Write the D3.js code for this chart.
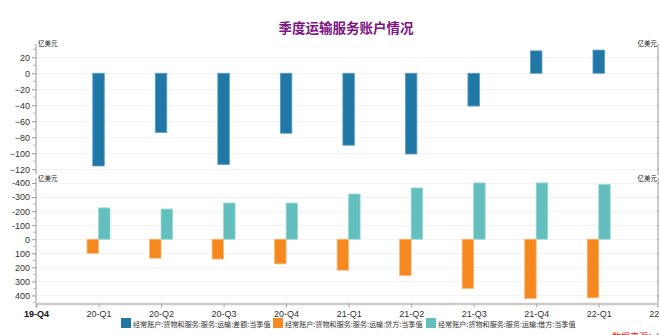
<!DOCTYPE html>
<html><head><meta charset="utf-8">
<script src="https://cdn.jsdelivr.net/npm/d3@7"></script>
<style>
html,body{margin:0;padding:0;background:#fff;overflow:hidden;}
svg{display:block;font-family:"Liberation Sans","Noto Sans CJK SC",Arial,sans-serif;}
</style></head><body>
<svg id="c" width="659" height="335"></svg>
<script>
const quarters = ["20-Q1","20-Q2","20-Q3","20-Q4","21-Q1","21-Q2","21-Q3","21-Q4","22-Q1"];
const xTickLabels = ["19-Q4","20-Q1","20-Q2","20-Q3","20-Q4","21-Q1","21-Q2","21-Q3","21-Q4","22-Q1","22-Q2"];
const balance = [-116, -74, -114, -75, -90, -101, -41, 28, 29];
const credit  = [100, 135, 141, 175, 220, 258, 350, 422, 417];
const debit   = [-223, -215, -258, -258, -322, -365, -401, -401, -391];
const topTicks = [20, 0, -20, -40, -60, -80, -100, -120];
const botTicks = [-400, -300, -200, -100, 0, 100, 200, 300, 400];
const seriesNames = ["经常账户:货物和服务:服务:运输:差额:当季值","经常账户:货物和服务:服务:运输:贷方:当季值","经常账户:货物和服务:服务:运输:借方:当季值"];
const colors = ["#2177a5","#f5891f","#62bfbd"];
const strokes = ["#5a9ec6","#f9b878","#9dd8d6"];

const svg = d3.select("#c");
const x = d3.scaleLinear().domain([0, 9.94]).range([36, 657.5]);
const yTop = d3.scaleLinear().domain([36.6, -126]).range([44, 174]);
const yBot = d3.scaleLinear().domain([-436, 456]).range([178, 303.3]);
const bw = 11.5;

// title
svg.append("text").attr("x", 346).attr("y", 33).attr("text-anchor","middle")
  .attr("font-family","'Noto Sans CJK SC',sans-serif").attr("font-size",13.5).attr("font-weight","bold")
  .attr("fill","#7e1480").text("季度运输服务账户情况");

// gridlines
svg.append("g").selectAll("line").data(topTicks).join("line")
  .attr("x1", 36).attr("x2", 657).attr("y1", d=>Math.round(yTop(d))+0.5).attr("y2", d=>Math.round(yTop(d))+0.5)
  .attr("stroke","#f2f2f2");
svg.append("g").selectAll("line").data(botTicks).join("line")
  .attr("x1", 36).attr("x2", 657).attr("y1", d=>Math.round(yBot(d))+0.5).attr("y2", d=>Math.round(yBot(d))+0.5)
  .attr("stroke","#f2f2f2");

// bars top
svg.append("g").selectAll("rect").data(balance).join("rect")
  .attr("x", (d,i)=>x(i+1)-bw/2).attr("width", bw)
  .attr("y", d=>yTop(Math.max(0,d))).attr("height", d=>Math.abs(yTop(d)-yTop(0)))
  .attr("fill", colors[0]).attr("stroke", strokes[0]).attr("stroke-width",0.8);
// bars bottom
svg.append("g").selectAll("rect").data(credit).join("rect")
  .attr("x", (d,i)=>x(i+1)-bw).attr("width", bw)
  .attr("y", d=>yBot(0)).attr("height", d=>yBot(d)-yBot(0))
  .attr("fill", colors[1]).attr("stroke", strokes[1]).attr("stroke-width",0.8);
svg.append("g").selectAll("rect").data(debit).join("rect")
  .attr("x", (d,i)=>x(i+1)).attr("width", bw)
  .attr("y", d=>yBot(d)).attr("height", d=>yBot(0)-yBot(d))
  .attr("fill", colors[2]).attr("stroke", strokes[2]).attr("stroke-width",0.8);

function styleAxis(g){
  g.selectAll("text").attr("fill","#333").attr("font-size",9);
  g.selectAll("line").attr("stroke","#999");
  g.select(".domain").attr("stroke","#999");
}
// minor ticks
function minor(scale, vals, xpos, dir){
  svg.append("g").selectAll("line").data(vals).join("line")
    .attr("x1", xpos).attr("x2", xpos + dir*3)
    .attr("y1", d=>scale(d)).attr("y2", d=>scale(d)).attr("stroke","#bbb");
}
minor(yTop, d3.range(30, -130, -10).filter(v=>v%20!==0), 36, -1);
minor(yBot, d3.range(-450, 460, 50).filter(v=>v%100!==0 && v>-436 && v<456), 36, -1);

svg.append("g").attr("transform","translate(36,0)")
  .call(d3.axisLeft(yTop).tickValues(topTicks).tickSize(4).tickPadding(2)).call(styleAxis)
  .call(g=>g.select(".domain").attr("d", `M0,${yTop.range()[0]}V${yTop.range()[1]}`));
svg.append("g").attr("transform","translate(36,0)")
  .call(d3.axisLeft(yBot).tickValues(botTicks).tickSize(4).tickPadding(2).tickFormat(d=>d)).call(styleAxis)
  .call(g=>g.select(".domain").attr("d", `M0,${yBot.range()[0]}V${yBot.range()[1]}`));
// right axes: tick marks only (labels lie beyond the visible area)
svg.append("g").attr("transform","translate(657.5,0)")
  .call(d3.axisRight(yTop).tickValues(topTicks).tickSize(3).tickFormat("")).call(styleAxis);
svg.append("g").attr("transform","translate(657.5,0)")
  .call(d3.axisRight(yBot).tickValues(botTicks).tickSize(3).tickFormat("")).call(styleAxis);

// unit labels
[[38, 46, "start"], [38, 181, "start"], [657, 46, "end"], [657, 181, "end"]].forEach(([ux, uy, a])=>{
  svg.append("text").attr("x", ux).attr("y", uy).attr("text-anchor", a)
    .attr("font-family","'Noto Sans CJK SC',sans-serif").attr("font-size",6.5).attr("fill","#222").text("亿美元");
});

// x axis
const xg = svg.append("g").attr("transform","translate(0,303.5)")
  .call(d3.axisBottom(x).tickValues(d3.range(xTickLabels.length)).tickFormat(i=>xTickLabels[i]).tickSize(4).tickPadding(3));
xg.selectAll("text").attr("font-size",9).attr("fill","#333");
xg.selectAll(".tick line").attr("stroke","#aaa");
xg.select(".domain").attr("stroke","#ccc").attr("stroke-width",2.5);
xg.selectAll(".tick").filter(i=>i===0).select("text").attr("font-weight","bold").attr("fill","#111");

// legend
const legX = [121, 273, 426];
seriesNames.forEach((n,i)=>{
  svg.append("rect").attr("x", legX[i]).attr("y", 318).attr("width", 10).attr("height", 10).attr("fill", colors[i]);
  svg.append("text").attr("x", legX[i]+12).attr("y", 326.5).attr("font-family","'Noto Sans CJK SC',sans-serif")
    .attr("font-size", 7.1).attr("fill","#333").text(n);
});
// source
svg.append("text").attr("x", 612).attr("y", 340).attr("font-family","'Noto Sans CJK SC',sans-serif")
  .attr("font-size", 9).attr("fill","#e02020").text("数据来源：Wind");
</script>
</body></html>
